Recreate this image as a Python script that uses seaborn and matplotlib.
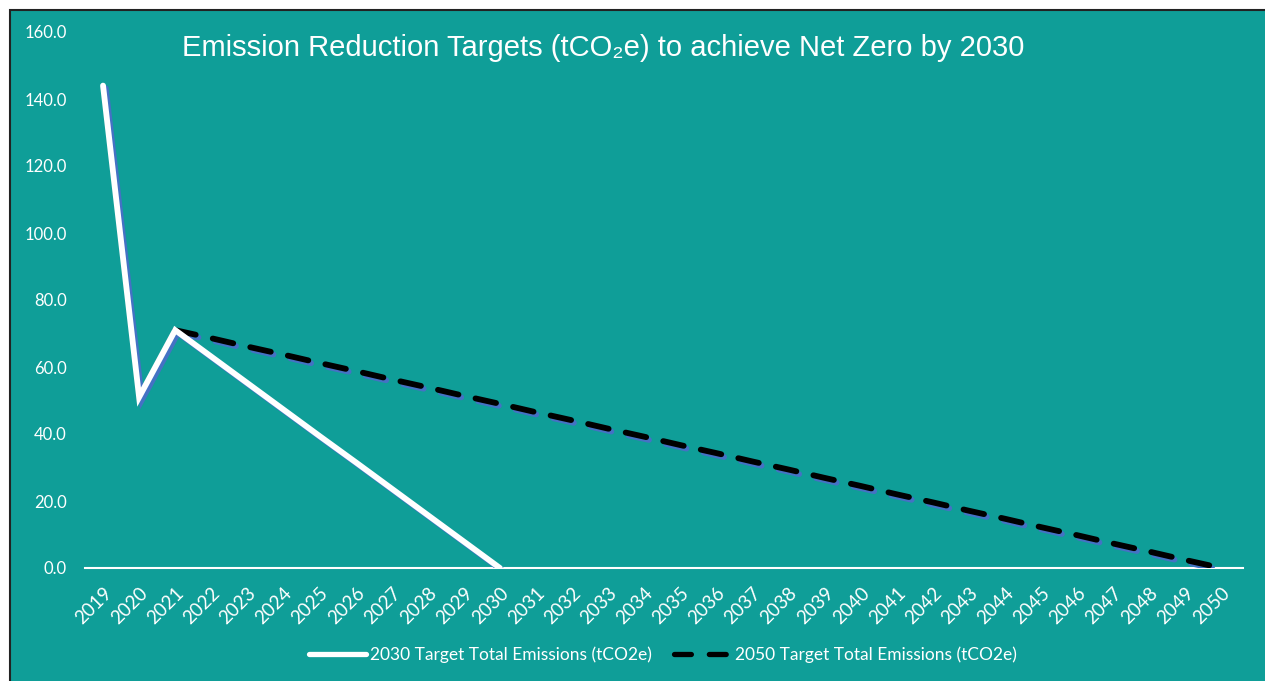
import matplotlib
matplotlib.use('Agg')
import matplotlib.pyplot as plt
import matplotlib.patheffects as pe
from matplotlib.lines import Line2D
from matplotlib.patches import Rectangle
import seaborn as sns

# Data
years_2030 = list(range(2019, 2031))
target_2030 = [144.0, 51.0, 71.0, 63.1, 55.2, 47.3, 39.4, 31.6, 23.7, 15.8, 7.9, 0.0]

years_2050 = list(range(2021, 2051))
target_2050 = [71.0, 68.6, 66.1, 63.7, 61.2, 58.8, 56.3, 53.9, 51.4, 49.0,
               46.5, 44.1, 41.6, 39.2, 36.7, 34.3, 31.8, 29.4, 26.9, 24.5,
               22.0, 19.6, 17.1, 14.7, 12.2, 9.8, 7.3, 4.9, 2.4, 0.0]

all_years = list(range(2019, 2051))
y_ticks = [0, 20, 40, 60, 80, 100, 120, 140, 160]
labels = ['2030 Target Total Emissions (tCO2e)', '2050 Target Total Emissions (tCO2e)']

teal = '#0F9E98'
shadow_blue = '#4472C4'
dash_style = (0, (3.6, 3.0))

sns.set_theme(style='white')
plt.rcParams['font.family'] = ['Lato', 'DejaVu Sans']

fig = plt.figure(figsize=(12.65, 6.81), dpi=100)
fig.patch.set_facecolor('white')
fig.patches.append(Rectangle((10 / 1265, -0.01), 1.01, 1 - 10 / 681 + 0.01,
                             transform=fig.transFigure, facecolor=teal,
                             edgecolor='#222222', linewidth=1.5, zorder=0))

ax = fig.add_axes([85 / 1265, 113 / 681, 1158 / 1265, 536 / 681])
ax.set_facecolor('none')
ax.set_zorder(2)

shadow = [pe.SimpleLineShadow(offset=(2, -2), shadow_color=shadow_blue, alpha=1.0),
          pe.Normal()]

# 2050 target (dashed) drawn first so the 2030 line sits on top
sns.lineplot(x=years_2050, y=target_2050, ax=ax, color='black', linewidth=4.2,
             linestyle=dash_style, dash_capstyle='round', solid_capstyle='round',
             path_effects=shadow, zorder=3)
sns.lineplot(x=years_2030, y=target_2030, ax=ax, color='white', linewidth=4.2,
             solid_capstyle='round', solid_joinstyle='miter',
             path_effects=shadow, zorder=4)

ax.set_xlim(2018.5, 2050.6)
ax.set_ylim(0, 160)
ax.set_xticks(all_years)
ax.set_xticklabels([str(y) for y in all_years], rotation=45, ha='right', va='top',
                   rotation_mode='anchor', fontsize=13.5, color='white')
ax.set_yticks(y_ticks)
ax.set_yticklabels([f'{v:.1f}' for v in y_ticks], fontsize=12, color='white')
ax.tick_params(axis='both', length=0)
ax.tick_params(axis='y', pad=13)
ax.tick_params(axis='x', pad=12)
for side in ['top', 'right', 'left']:
    ax.spines[side].set_visible(False)
ax.spines['bottom'].set_color('white')
ax.spines['bottom'].set_linewidth(1.5)
ax.grid(False)
ax.set_xlabel('')
ax.set_ylabel('')

fig.text(603 / 1265, 1 - 48 / 681, 'Emission Reduction Targets (tCO\u2082e) to achieve Net Zero by 2030',
         ha='center', va='center', fontsize=21, color='white',
         family=['Liberation Sans', 'DejaVu Sans'])

handles = [Line2D([], [], color='white', linewidth=3.8, solid_capstyle='round'),
           Line2D([], [], color='black', linewidth=3.8, linestyle=(0, (3.2, 3.4)),
                  dash_capstyle='round')]
leg = fig.legend(handles, labels, loc='center', bbox_to_anchor=(663 / 1265, 1 - 655 / 681),
                 ncol=2, frameon=False, fontsize=12.5, handlelength=3.3,
                 handletextpad=0.2, columnspacing=1.3)
for t in leg.get_texts():
    t.set_color('white')

fig.savefig('out.png', dpi=100, facecolor=fig.get_facecolor())
